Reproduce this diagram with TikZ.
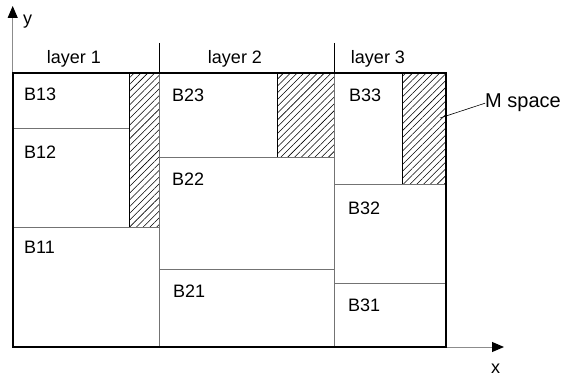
\documentclass[tikz,border=0pt]{standalone}
\usepackage{fontspec}
\setmainfont{Liberation Sans}
\usetikzlibrary{arrows.meta,patterns.meta}
\tikzset{
  lbl/.style={anchor=base west, inner sep=0pt, font=\fontsize{18}{20}\selectfont},
  hatchbox/.style={draw=black, line width=0.8pt,
    pattern={Lines[angle=45, distance=4.8pt, line width=0.55pt]}, pattern color=black},
  inner/.style={draw=black!55, line width=0.9pt},
  divider/.style={draw=black, line width=0.9pt},
  frame/.style={draw=black, line width=2pt},
  axis/.style={draw=black!45, line width=1pt},
  axtip/.style={-{Triangle[length=12pt,width=10pt,color=black]}},
}
\begin{document}
\begin{tikzpicture}[x=1pt,y=-1pt]
\useasboundingbox (0,0) rectangle (567,377);

% frame corners and column boundaries
\coordinate (tl) at (12.7,73);
\coordinate (br) at (446,347);

% free space of each layer (hatched)
\path[hatchbox] (129,73) rectangle (159.3,227);
\path[hatchbox] (277,73) rectangle (334,157);
\path[hatchbox] (402,73) rectangle (446,184);

% block boundaries
\draw[inner] (12.7,128) -- (129,128);
\draw[inner] (12.7,227) -- (159.3,227);
\draw[inner] (159.3,157) -- (334,157);
\draw[inner] (159.3,269) -- (334,269);
\draw[inner] (334,184) -- (446,184);
\draw[inner] (334,283) -- (446,283);
\draw[inner] (159.3,73) -- (159.3,347);
\draw[inner] (334,73) -- (334,347);

% layer separators above the frame
\draw[divider] (159.3,43) -- (159.3,73);
\draw[divider] (334,43) -- (334,73);

% axes
\coordinate (ytip) at (12.7,6);
\coordinate (xtip) at (504,347);
\draw[axis, axtip] (tl) -- (ytip);
\draw[axis, axtip] (br) -- (xtip);

% outer frame
\draw[frame] (tl) rectangle (br);

% axis labels
\node[lbl] (ylab) at (23,25) {y};
\node[lbl] (xlab) at (491,373) {x};

% layer titles
\node[lbl, anchor=base] (L1) at (74,64) {layer 1};
\node[lbl, anchor=base] (L2) at (235,64) {layer 2};
\node[lbl, anchor=base] (L3) at (378,64) {layer 3};

% block names
\node[lbl] (b13) at (24,101) {B13};
\node[lbl] (b12) at (24,158) {B12};
\node[lbl] (b11) at (24,253) {B11};
\node[lbl] (b23) at (172,102) {B23};
\node[lbl] (b22) at (172,185) {B22};
\node[lbl] (b21) at (173,297) {B21};
\node[lbl] (b33) at (349,102) {B33};
\node[lbl] (b32) at (348,214) {B32};
\node[lbl] (b31) at (348,311) {B31};

% free space label with leader
\node[lbl, font=\fontsize{20}{22}\selectfont] (ms) at (485,108) {M space};
\coordinate (mpt) at (440,118);
\draw[black, line width=0.6pt] (mpt) -- (ms.west);
\end{tikzpicture}
\end{document}
